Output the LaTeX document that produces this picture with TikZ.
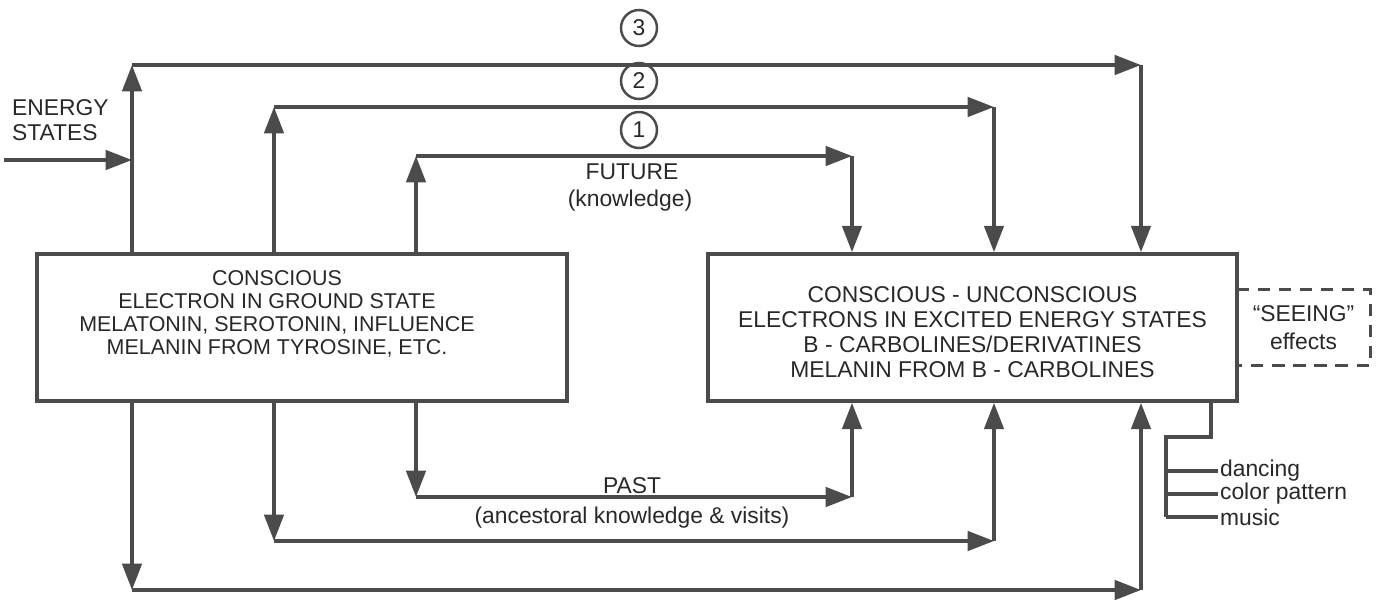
\documentclass[tikz,border=0pt]{standalone}
\usepackage{fontspec}
\setmainfont{Liberation Sans}
\usetikzlibrary{positioning,arrows.meta}
\definecolor{lnGray}{RGB}{75,75,75}
\definecolor{txGray}{RGB}{40,40,40}

\begin{document}
\begin{tikzpicture}[x=0.02cm, y=-0.02cm,
  line/.style={draw=lnGray, line width=2.1pt},
  flow/.style={line, -{Triangle[length=15pt,width=11pt]}},
  panel/.style={line, minimum width=10.6cm, minimum height=2.94cm, inner sep=0pt},
  txt/.style={text=txGray, font=\fontsize{13}{14.2}\selectfont, inner sep=1pt},
  smalltxt/.style={text=txGray, font=\fontsize{12.2}{13.1}\selectfont, inner sep=1pt},
  numcirc/.style={circle, draw=lnGray, line width=1.4pt, minimum size=0.72cm, inner sep=0pt, txt}]
  \useasboundingbox (0,0) rectangle (1377,605);

  % Boxes
  \node[panel] (ground) at (302,327.5) {};
  \node[smalltxt, align=center] (groundtext) at (277,314)
    {CONSCIOUS\\ELECTRON IN GROUND STATE\\MELATONIN, SEROTONIN, INFLUENCE\\MELANIN FROM TYROSINE, ETC.};
  \node[panel, minimum width=10.58cm] (excited) at (972.5,327.5) {};
  \node[txt, align=center] (excitedtext) at (972.5,332)
    {CONSCIOUS - UNCONSCIOUS\\ELECTRONS IN EXCITED ENERGY STATES\\B - CARBOLINES/DERIVATINES\\MELANIN FROM B - CARBOLINES};

  % Corners of the loops
  \coordinate (t3l) at (132,65);  \coordinate (t3r) at (1141,65);
  \coordinate (t2l) at (274,107); \coordinate (t2r) at (994,107);
  \coordinate (t1l) at (416,156); \coordinate (t1r) at (852,156);
  \coordinate (b1l) at (416,497); \coordinate (b1r) at (852,497);
  \coordinate (b2l) at (274,541); \coordinate (b2r) at (994,541);
  \coordinate (b3l) at (132,590); \coordinate (b3r) at (1141,590);

  % Energy states input
  \node[txt, anchor=west, align=left] (energy) at (10,120) {ENERGY\\STATES};
  \coordinate (ein) at (4,160);
  \draw[flow] (ein) -- (ein -| t3l);

  % Upper loops
  \draw[flow] (t3l |- ground.north) -- (t3l);
  \draw[flow] (t3l) -- (t3r);
  \draw[flow] (t3r) -- (t3r |- excited.north);
  \draw[flow] (t2l |- ground.north) -- (t2l);
  \draw[flow] (t2l) -- (t2r);
  \draw[flow] (t2r) -- (t2r |- excited.north);
  \draw[flow] (t1l |- ground.north) -- (t1l);
  \draw[flow] (t1l) -- (t1r);
  \draw[flow] (t1r) -- (t1r |- excited.north);

  \node[numcirc] (n3) at (639,28) {3};
  \node[numcirc] (n2) at (639,81) {2};
  \node[numcirc] (n1) at (639,130) {1};
  \node[txt] (future) at (632,172) {FUTURE};
  \node[txt] (futurenote) at (630,201) {(knowledge)};

  % Lower loops
  \draw[flow] (b1l |- ground.south) -- (b1l);
  \draw[flow] (b1l) -- (b1r);
  \draw[flow] (b1r) -- (b1r |- excited.south);
  \draw[flow] (b2l |- ground.south) -- (b2l);
  \draw[flow] (b2l) -- (b2r);
  \draw[flow] (b2r) -- (b2r |- excited.south);
  \draw[flow] (b3l |- ground.south) -- (b3l);
  \draw[flow] (b3l) -- (b3r);
  \draw[flow] (b3r) -- (b3r |- excited.south);

  \node[txt] (past) at (632,486) {PAST};
  \node[txt] (pastnote) at (632,518) {(ancestoral knowledge \& visits)};

  % Seeing effects
  \node[txt, align=center, minimum width=2.66cm, minimum height=1.5cm] (seeing) at (1303.5,327.5)
    {``SEEING''\\[2pt]effects};
  \draw[line, line width=1.6pt, dash pattern=on 7pt off 5pt]
    (seeing.north west) -- (seeing.north east) -- (seeing.south east) -- (seeing.south west);

  % Outputs
  \coordinate (bjoint) at (1166,437);
  \node[txt, anchor=west] (dancing) at (1218,471) {dancing};
  \node[txt, anchor=west] (colorpat) at (1218,494) {color pattern};
  \node[txt, anchor=west] (music) at (1218,517) {music};
  \draw[line] (excited.south -| 1211,0) -- (1211,437) -- (bjoint) -- (music.west -| bjoint);
  \draw[line] (dancing.west -| bjoint) -- (dancing.west);
  \draw[line] (colorpat.west -| bjoint) -- (colorpat.west);
  \draw[line] (music.west -| bjoint) -- (music.west);
\end{tikzpicture}
\end{document}
